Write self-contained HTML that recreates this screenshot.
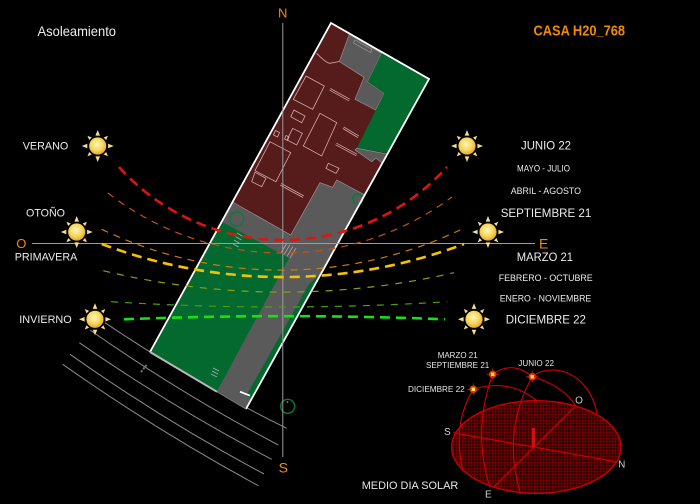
<!DOCTYPE html>
<html><head><meta charset="utf-8"><style>
html,body{margin:0;padding:0;background:#000;}
svg{display:block;}
text{font-family:"Liberation Sans",Arial,sans-serif;}
</style></head><body>
<svg width="700" height="504" viewBox="0 0 700 504" xmlns="http://www.w3.org/2000/svg" xmlns:xlink="http://www.w3.org/1999/xlink">
<defs>
<radialGradient id="sg" cx="45%" cy="40%" r="62%">
<stop offset="0" stop-color="#fff6bc"/>
<stop offset="0.55" stop-color="#f8d862"/>
<stop offset="1" stop-color="#e2a722"/>
</radialGradient>
<g id="sun">
<g fill="#f4de90">
<polygon points="0,-16 -2.3,-10.4 2.3,-10.4"/>
<polygon points="0,16 -2.3,10.4 2.3,10.4"/>
<polygon points="-16,0 -10.4,-2.3 -10.4,2.3"/>
<polygon points="16,0 10.4,-2.3 10.4,2.3"/>
<polygon points="0,-14.5 -1.8,-10.2 1.8,-10.2" transform="rotate(45)"/>
<polygon points="0,-14.5 -1.8,-10.2 1.8,-10.2" transform="rotate(135)"/>
<polygon points="0,-14.5 -1.8,-10.2 1.8,-10.2" transform="rotate(225)"/>
<polygon points="0,-14.5 -1.8,-10.2 1.8,-10.2" transform="rotate(315)"/>
</g>
<circle r="8.6" fill="url(#sg)"/>
</g>
<g id="msun">
<circle r="3.8" fill="#e03a00"/>
<path d="M0,-6V6M-6,0H6" stroke="#d02000" stroke-width="0.8"/>
<rect x="-1.7" y="-1.7" width="3.4" height="3.4" fill="#fff040"/>
</g>
<pattern id="hatch" width="3" height="3" patternUnits="userSpaceOnUse">
<path d="M0,0.5H3M0.5,0V3" stroke="#900000" stroke-width="0.5"/>
</pattern>
</defs>

<rect width="700" height="504" fill="#000"/>

<g fill="none" stroke="#8a8a8a" stroke-width="1">
<path d="M105,322.7 Q192.4,381.6 286.7,428.3"/>
<path d="M90,330 Q180.6,393.5 278.3,445"/>
<path d="M79.3,342.7 Q171.9,407 271.7,459.3"/>
<path d="M70,354.3 Q163.3,420.2 264,474"/>
<path d="M62.7,364.3 Q156.8,430.6 258.3,485.7"/>
</g>
<line x1="141" y1="372" x2="146.5" y2="365" stroke="#777" stroke-width="2" stroke-dasharray="2 1.5"/>

<polygon points="331,23 429,79 246,409 150,352" fill="#561b1b"/>
<polygon points="349.3,34.3 381.7,53.3 367.7,81.7 384.3,93.3 375.7,110 355,99.3 364,77.3 339.3,61.5" fill="#5a5a5a" stroke="#9a8c8c" stroke-width="0.7"/>
<polygon points="355,40 372,49.5 370.5,52.5 353.5,43" fill="none" stroke="#999" stroke-width="0.7"/>
<polygon points="381.7,53.3 429,79 388,153 356.7,148.3 384.3,93.3 367.7,81.7" fill="#03692f"/>
<polygon points="355,150 371.7,161.7 376,158 382,163 387,154 356.7,148.3" fill="#5a5a5a" stroke="#999" stroke-width="0.6"/>
<polygon points="232.5,202 290.7,235 320,182.7 332.7,187.3 336.7,180 364.7,195 246,409 150,352" fill="#5a5a5a" stroke="#a09090" stroke-width="0.7"/>
<polygon points="221.7,221.7 289,258 226.7,373.3 216.7,391.6 150,352" fill="#03692f"/>
<polygon points="321.4,273 309,284 258,375 246,396 251.5,398" fill="#03692f"/>
<g fill="none" stroke="#d6aaaa" stroke-width="0.8">
<polygon points="306,76 324.3,86 312.7,109.3 293.3,99.3"/>
<polygon points="294,110 305,116 301.7,122.7 290.7,116.7"/>
<polygon points="320,113.3 336.7,122.7 321.7,156 303.3,146"/>
<polygon points="275.5,130.5 279.5,132.5 277.5,137 273.5,135"/>
<polygon points="286,135.5 289,137 287.5,140.5 284.5,139"/>
<polygon points="292.7,128.3 302.3,133.3 296.7,145 287,140"/>
<polygon points="270,141.7 290.7,152.7 276,181.7 255,170.7"/>
<polygon points="255,172.3 266,178.3 261.7,186.7 251.7,181.7"/>
<polygon points="328.3,163.3 339,168.3 336,173.3 326,168.3"/>
<path d="M316.7,53.3 Q326,63 330,63.3 L339.3,61.5"/>
</g>
<g stroke-linecap="butt">
<g stroke="#d6aaaa" stroke-width="2.6">
<line x1="330" y1="89.3" x2="349.3" y2="100"/>
<line x1="343.3" y1="127.7" x2="358.3" y2="136.7"/>
<line x1="336" y1="144" x2="356.7" y2="155"/>
<line x1="280.7" y1="184.3" x2="303.3" y2="196.7"/>
</g>
<g stroke="#561b1b" stroke-width="1.1">
<line x1="330" y1="89.3" x2="349.3" y2="100"/>
<line x1="343.3" y1="127.7" x2="358.3" y2="136.7"/>
<line x1="336" y1="144" x2="356.7" y2="155"/>
<line x1="280.7" y1="184.3" x2="303.3" y2="196.7"/>
</g>
</g>
<g stroke="#aaa" stroke-width="0.8">
<line x1="237" y1="233" x2="243" y2="236.5"/>
<line x1="235.5" y1="236.5" x2="241.5" y2="240"/>
<line x1="234" y1="240" x2="240" y2="243.5"/>
<line x1="232.5" y1="243.5" x2="238.5" y2="247"/>
<line x1="287" y1="243" x2="281" y2="253"/>
<line x1="290" y1="244.7" x2="284" y2="254.7"/>
<line x1="293" y1="246.4" x2="287" y2="256.4"/>
<line x1="296" y1="248.1" x2="290" y2="258.1"/>
<line x1="213" y1="368" x2="219" y2="371"/>
<line x1="212" y1="371" x2="218" y2="374"/>
<line x1="211" y1="374" x2="217" y2="377"/>
</g>
<g fill="none" stroke="#0b7a3c" stroke-width="1.4">
<circle cx="236.7" cy="219" r="7"/>
<circle cx="357.7" cy="199" r="5"/>
<circle cx="287.7" cy="406.3" r="7"/>
</g>
<circle cx="287.5" cy="402" r="0.9" fill="#888"/>
<polyline points="150,352 331,23 429,79 246,409" fill="none" stroke="#fff" stroke-width="1.8"/>
<line x1="150" y1="352" x2="217" y2="391.8" stroke="#b8b8b8" stroke-width="2"/>
<line x1="217" y1="391.8" x2="246" y2="409" stroke="#777" stroke-width="0.8"/>
<line x1="240" y1="391.7" x2="250" y2="395.7" stroke="#fff" stroke-width="1.8"/>

<line x1="282.8" y1="23" x2="282.8" y2="457" stroke="#9c9c9c" stroke-width="1"/>
<line x1="32" y1="243.5" x2="535" y2="243.5" stroke="#9c9c9c" stroke-width="1"/>

<g fill="none">
<path d="M119,167 A220.7,220.7 0 0 0 447,167" stroke="#e0140f" stroke-width="2.6" stroke-dasharray="10 6"/>
<path d="M108,193 A284,284 0 0 0 452,197" stroke="#c4520e" stroke-width="1.2" stroke-dasharray="7 6"/>
<path d="M101.7,229.3 A416.7,416.7 0 0 0 460,230" stroke="#cf7a10" stroke-width="1.2" stroke-dasharray="7 6"/>
<path d="M101.7,244 A512.9,512.9 0 0 0 464,244" stroke="#f5c200" stroke-width="2.6" stroke-dasharray="10 6"/>
<path d="M103.3,270.7 A764.5,764.5 0 0 0 454,272.7" stroke="#8aa012" stroke-width="1.2" stroke-dasharray="7 7"/>
<path d="M111,301.7 A2665,2665 0 0 0 447.3,301.7" stroke="#4f9c12" stroke-width="1.2" stroke-dasharray="7 7"/>
<path d="M124,319.3 Q284.5,313 445,319.3" stroke="#18e018" stroke-width="2.6" stroke-dasharray="10 6"/>
</g>

<use href="#sun" xlink:href="#sun" x="97.7" y="146"/>
<use href="#sun" xlink:href="#sun" x="76.7" y="232"/>
<use href="#sun" xlink:href="#sun" x="95" y="319.3"/>
<use href="#sun" xlink:href="#sun" x="467" y="146"/>
<use href="#sun" xlink:href="#sun" x="488" y="232"/>
<use href="#sun" xlink:href="#sun" x="474" y="319.3"/>

<text x="37.5" y="36" font-size="14" fill="#eeeeee" textLength="78.5" lengthAdjust="spacingAndGlyphs">Asoleamiento</text>
<text x="533.5" y="35.5" font-size="15" font-weight="bold" fill="#f08c00" textLength="91.5" lengthAdjust="spacingAndGlyphs">CASA H20_768</text>

<g fill="#f08c00" text-anchor="middle">
<text x="282.7" y="17.4" font-size="13">N</text>
<text x="283.3" y="472.3" font-size="14">S</text>
<text x="21.3" y="248" font-size="13">O</text>
<text x="543.7" y="248.3" font-size="14">E</text>
</g>

<g fill="#ececec">
<text x="22.7" y="149.6" font-size="11" textLength="45.6" lengthAdjust="spacingAndGlyphs">VERANO</text>
<text x="26" y="216.4" font-size="11" textLength="39" lengthAdjust="spacingAndGlyphs">OTOÑO</text>
<text x="14.7" y="260.6" font-size="11" textLength="62.6" lengthAdjust="spacingAndGlyphs">PRIMAVERA</text>
<text x="19.3" y="323.2" font-size="11" textLength="52.4" lengthAdjust="spacingAndGlyphs">INVIERNO</text>
<text x="521" y="149.6" font-size="12" textLength="50" lengthAdjust="spacingAndGlyphs">JUNIO 22</text>
<text x="517" y="171.5" font-size="9" textLength="53" lengthAdjust="spacingAndGlyphs">MAYO - JULIO</text>
<text x="510.7" y="193.9" font-size="9" textLength="70.3" lengthAdjust="spacingAndGlyphs">ABRIL - AGOSTO</text>
<text x="500.7" y="217" font-size="12" textLength="90.6" lengthAdjust="spacingAndGlyphs">SEPTIEMBRE 21</text>
<text x="516.7" y="261" font-size="12" textLength="56.3" lengthAdjust="spacingAndGlyphs">MARZO 21</text>
<text x="498.7" y="280.9" font-size="9" textLength="94" lengthAdjust="spacingAndGlyphs">FEBRERO - OCTUBRE</text>
<text x="499.7" y="301.5" font-size="9" textLength="91.6" lengthAdjust="spacingAndGlyphs">ENERO - NOVIEMBRE</text>
<text x="505.7" y="323.6" font-size="12" textLength="80.3" lengthAdjust="spacingAndGlyphs">DICIEMBRE 22</text>
</g>

<ellipse cx="536.3" cy="447" rx="84.7" ry="46.3" fill="#300000"/>
<ellipse cx="536.3" cy="447" rx="84.7" ry="46.3" fill="url(#hatch)" stroke="#c80000" stroke-width="1.4"/>
<g fill="none" stroke="#d00000" stroke-width="1.1">
<line x1="453.3" y1="432.7" x2="615.7" y2="461.7"/>
<line x1="493.3" y1="487.3" x2="575" y2="406.7"/>
<path d="M462.7,470 Q452,424 473.3,389.3"/>
<path d="M490,487.5 Q472,431 492.7,374.3"/>
<path d="M520,492 Q502,430 532.3,376.7"/>
<path d="M473.3,389.3 Q510,378 537,401"/>
<path d="M492.7,374.3 Q512,360 532.3,376.7"/>
<path d="M532.3,376.7 C550,362 588,370 597,413"/>
<path d="M532.3,376.7 Q562,385 576,406"/>
</g>
<rect x="531.8" y="430" width="3.2" height="17.5" fill="#d01010"/>
<circle cx="533.4" cy="429.5" r="1.8" fill="#d01010"/>
<use href="#msun" xlink:href="#msun" x="492.7" y="374.3"/>
<use href="#msun" xlink:href="#msun" x="532.3" y="376.7"/>
<use href="#msun" xlink:href="#msun" x="473.3" y="389.3"/>

<g fill="#e6e6e6">
<text x="437.7" y="357.9" font-size="8" textLength="40" lengthAdjust="spacingAndGlyphs">MARZO 21</text>
<text x="426" y="367.9" font-size="8" textLength="63.3" lengthAdjust="spacingAndGlyphs">SEPTIEMBRE 21</text>
<text x="518.3" y="365.9" font-size="8" textLength="35.7" lengthAdjust="spacingAndGlyphs">JUNIO 22</text>
<text x="408" y="391.9" font-size="8" textLength="56.7" lengthAdjust="spacingAndGlyphs">DICIEMBRE 22</text>
<text x="361.7" y="489" font-size="11" textLength="96.6" lengthAdjust="spacingAndGlyphs">MEDIO DIA SOLAR</text>
</g>
<g fill="#cfcfcf" font-size="10" text-anchor="middle">
<text x="447.3" y="434.8">S</text>
<text x="579" y="403.6">O</text>
<text x="621.7" y="467.6">N</text>
<text x="488.3" y="497.6">E</text>
</g>
</svg>
</body></html>
